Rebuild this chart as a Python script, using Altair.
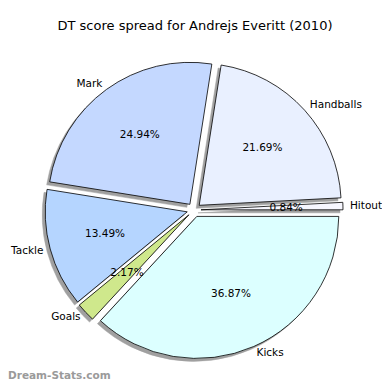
import altair as alt
import pandas as pd

# ---- data ----
categories = ["Hitout", "Handballs", "Mark", "Tackle", "Goals", "Kicks"]
shares = [0.84, 21.69, 24.94, 13.49, 2.17, 36.87]
colors = ["#f7f7ff", "#e9f0ff", "#c4d8ff", "#b5d5ff", "#cfe88c", "#dcffff"]
title_text = "DT score spread for Andrejs Everitt (2010)"
watermark = ["Dream-Stats.com"]

# ---- style constants ----
R = 142          # pie radius (px)
EXPLODE = 7      # explode distance (px)
SHADOW = 3       # shadow offset (px)
LBL_R = 156
PCT_R = EXPLODE + 0.6 * R
FONT = "DejaVu Sans"
FS = 10.5

df = pd.DataFrame({"cat": categories, "share": shares, "idx": list(range(len(categories)))})

base = (
    alt.Chart(df)
    .transform_window(
        cum="sum(share)",
        sort=[alt.SortField("idx", order="descending")],
        frame=[None, 0],
    )
    .transform_joinaggregate(total="sum(share)")
    .transform_calculate(
        t0="PI/2 + 2*PI*(datum.cum - datum.share)/datum.total",
        t1="PI/2 + 2*PI*datum.cum/datum.total",
    )
    .transform_calculate(tm="(datum.t0 + datum.t1)/2")
    .transform_calculate(
        px=f"width/2 + {EXPLODE}*sin(datum.tm)",
        py=f"height/2 - {EXPLODE}*cos(datum.tm)",
        lx=f"width/2 + {LBL_R}*sin(datum.tm)",
        ly=f"height/2 - {LBL_R}*cos(datum.tm)",
        qx=f"width/2 + {PCT_R}*sin(datum.tm)",
        qy=f"height/2 - {PCT_R}*cos(datum.tm)",
        pct="format(datum.share, '.2f') + '%'",
        side="sin(datum.tm) >= 0 ? 'R' : 'L'",
    )
    .transform_calculate(
        sx=f"datum.px - {SHADOW}",
        sy=f"datum.py + {SHADOW}",
    )
)

theta = alt.Theta("t0:Q", scale=None)
theta2 = alt.Theta2("t1:Q")

shadow = base.mark_arc(radius=R, fill="#444444", opacity=0.5, stroke="#444444", strokeWidth=0.5).encode(
    theta=theta,
    theta2=theta2,
    x=alt.X("sx:Q", scale=None, axis=None),
    y=alt.Y("sy:Q", scale=None, axis=None),
)

arcs = base.mark_arc(radius=R, stroke="black", strokeWidth=0.8).encode(
    theta=theta,
    theta2=theta2,
    x=alt.X("px:Q", scale=None, axis=None),
    y=alt.Y("py:Q", scale=None, axis=None),
    color=alt.Color("cat:N", scale=alt.Scale(domain=categories, range=colors), legend=None),
)

lab_r = base.transform_filter("datum.side == 'R'").mark_text(
    align="left", baseline="middle", font=FONT, fontSize=FS, color="black"
).encode(
    x=alt.X("lx:Q", scale=None, axis=None),
    y=alt.Y("ly:Q", scale=None, axis=None),
    text="cat:N",
)

lab_l = base.transform_filter("datum.side == 'L'").mark_text(
    align="right", baseline="middle", font=FONT, fontSize=FS, color="black"
).encode(
    x=alt.X("lx:Q", scale=None, axis=None),
    y=alt.Y("ly:Q", scale=None, axis=None),
    text="cat:N",
)

pct = base.mark_text(
    align="center", baseline="middle", font=FONT, fontSize=FS, color="black"
).encode(
    x=alt.X("qx:Q", scale=None, axis=None),
    y=alt.Y("qy:Q", scale=None, axis=None),
    text="pct:N",
)

wm = alt.Chart(pd.DataFrame({"t": watermark})).mark_text(
    align="left", baseline="middle", font=FONT, fontSize=10.5, fontWeight="bold", color="#9a9a9a"
).encode(
    x=alt.value(-1),
    y=alt.value(328),
    text="t:N",
)

chart = (
    alt.layer(shadow, arcs, lab_r, lab_l, pct, wm)
    .properties(
        width=370,
        height=324,
        padding={"left": 1, "top": 40, "right": 3, "bottom": 10},
        autosize="none",
        title=alt.TitleParams(
            title_text,
            font=FONT,
            fontSize=13,
            fontWeight="normal",
            color="black",
            anchor="middle",
            baseline="alphabetic",
            offset=5,
            dx=1,
        ),
    )
    .configure_view(stroke=None)
)

chart.save("out.html", embed_options={"renderer": "svg", "actions": False})
